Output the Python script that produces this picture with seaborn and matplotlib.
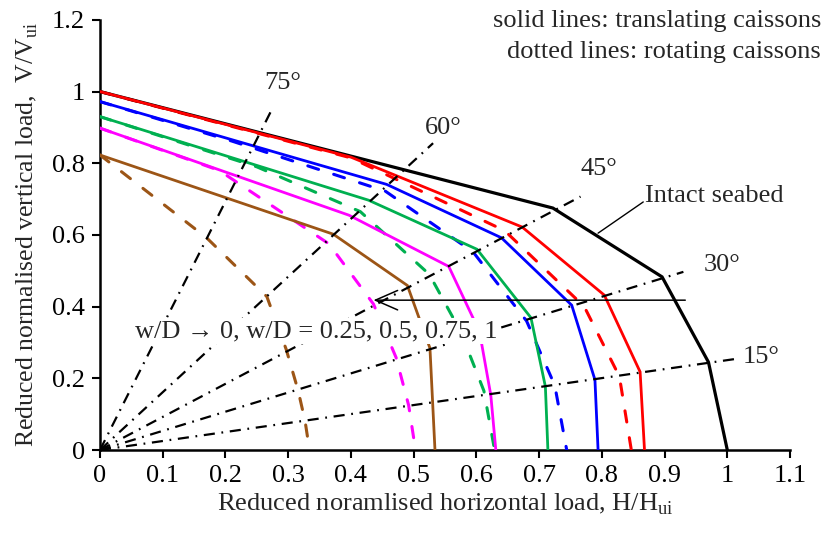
import matplotlib
matplotlib.use("Agg")
import matplotlib.pyplot as plt
import seaborn as sns

# ---------------------------------------------------------------
# Reduced failure envelopes in normalised H-V load space
# (H/Hui on x, V/Vui on y)
# ---------------------------------------------------------------

# intact seabed envelope
intact_h = [0.0, 0.722, 0.896, 0.970, 1.000]
intact_v = [1.0, 0.675, 0.483, 0.245, 0.000]

# translating caissons (solid lines)
tr_h_w0 = [0.0, 0.400, 0.673, 0.804, 0.861, 0.868]
tr_v_w0 = [1.0, 0.817, 0.622, 0.432, 0.218, 0.000]
tr_h_w025 = [0.0, 0.457, 0.640, 0.752, 0.789, 0.794]
tr_v_w025 = [0.972, 0.741, 0.592, 0.404, 0.196, 0.000]
tr_h_w05 = [0.0, 0.428, 0.601, 0.687, 0.710, 0.714]
tr_v_w05 = [0.930, 0.697, 0.560, 0.369, 0.177, 0.000]
tr_h_w075 = [0.0, 0.397, 0.556, 0.605, 0.623, 0.631]
tr_v_w075 = [0.898, 0.655, 0.512, 0.330, 0.153, 0.000]
tr_h_w1 = [0.0, 0.372, 0.490, 0.526, 0.534]
tr_v_w1 = [0.823, 0.602, 0.459, 0.284, 0.000]

# rotating caissons (dashed lines)
rot_h_w0 = [0.0, 0.400, 0.645, 0.772, 0.828, 0.847]
rot_v_w0 = [1.0, 0.815, 0.612, 0.400, 0.205, 0.000]
rot_h_w025 = [0.0, 0.210, 0.455, 0.595, 0.680, 0.725, 0.744]
rot_v_w025 = [0.972, 0.862, 0.722, 0.552, 0.360, 0.180, 0.000]
rot_h_w05 = [0.0, 0.250, 0.415, 0.525, 0.575, 0.612, 0.629]
rot_v_w05 = [0.930, 0.790, 0.665, 0.490, 0.330, 0.165, 0.000]
rot_h_w075 = [0.0, 0.190, 0.365, 0.436, 0.472, 0.492, 0.503]
rot_v_w075 = [0.898, 0.780, 0.575, 0.407, 0.258, 0.125, 0.000]
rot_h_w1 = [0.0, 0.170, 0.266, 0.297, 0.316, 0.327, 0.334]
rot_v_w1 = [0.823, 0.592, 0.428, 0.280, 0.165, 0.080, 0.000]

# load-path rays from the origin (end points) and their labels
ray_labels = ["75°", "60°", "45°", "30°", "15°"]
ray_end_h = [0.276, 0.531, 0.766, 0.930, 1.021]
ray_end_v = [0.957, 0.856, 0.707, 0.497, 0.256]
ray_label_h = [0.291, 0.547, 0.795, 0.992, 1.054]
ray_label_v = [1.023, 0.898, 0.784, 0.516, 0.259]

x_ticks = [0.0, 0.1, 0.2, 0.3, 0.4, 0.5, 0.6, 0.7, 0.8, 0.9, 1.0, 1.1]
x_tick_labels = ["0", "0.1", "0.2", "0.3", "0.4", "0.5", "0.6", "0.7",
                 "0.8", "0.9", "1", "1.1"]
y_ticks = [0.0, 0.2, 0.4, 0.6, 0.8, 1.0, 1.2]
y_tick_labels = ["0", "0.2", "0.4", "0.6", "0.8", "1", "1.2"]

# ---------------------------------------------------------------
sns.set_style("ticks")
plt.rcParams["font.family"] = ["Liberation Serif", "DejaVu Serif"]
plt.rcParams["mathtext.fontset"] = "custom"
plt.rcParams["mathtext.rm"] = "Liberation Serif"
FS = 19

RED, BLUE, GREEN, MAGENTA, BROWN = "#FF0000", "#0000FF", "#00B050", "#FF00FF", "#9C5516"

fig = plt.figure(figsize=(8.27, 5.37), dpi=100)
ax = fig.add_axes([0.1209, 0.162, 0.8344, 0.801])

# rays
for eh, ev in zip(ray_end_h, ray_end_v):
    sns.lineplot(x=[0.0, eh], y=[0.0, ev], ax=ax, color="black", lw=1.6,
                 linestyle=(0, (5, 3, 0.8, 3)), sort=False, estimator=None,
                 zorder=4)
for lab, lh, lv in zip(ray_labels, ray_label_h, ray_label_v):
    ax.text(lh, lv, lab, fontsize=FS, ha="center", va="center", zorder=6)

dash = (0, (3.7, 5.2))
curves = [
    (rot_h_w1, rot_v_w1, BROWN, dash),
    (rot_h_w075, rot_v_w075, MAGENTA, dash),
    (rot_h_w05, rot_v_w05, GREEN, dash),
    (rot_h_w025, rot_v_w025, BLUE, dash),
    (rot_h_w0, rot_v_w0, RED, dash),
    (intact_h, intact_v, "black", "-"),
    (tr_h_w1, tr_v_w1, BROWN, "-"),
    (tr_h_w075, tr_v_w075, MAGENTA, "-"),
    (tr_h_w05, tr_v_w05, GREEN, "-"),
    (tr_h_w025, tr_v_w025, BLUE, "-"),
    (tr_h_w0, tr_v_w0, RED, "-"),
]
for h, v, c, ls in curves:
    lw = 2.3 if c == "black" else (2.2 if ls != "-" else 2.0)
    sns.lineplot(x=h, y=v, ax=ax, color=c, lw=lw, linestyle=ls,
                 sort=False, estimator=None, dash_capstyle="round",
                 solid_joinstyle="miter", zorder=3)

# annotations
ax.annotate("", xy=(0.436, 0.418), xytext=(0.933, 0.418),
            arrowprops=dict(arrowstyle="->,head_length=0.8,head_width=0.35",
                            lw=1.1, color="black", mutation_scale=20,
                            shrinkA=0, shrinkB=0), zorder=5)
label_box = ax.text(0.056, 0.332, "w/D \u2192 0, w/D = 0.25, 0.5, 0.75, 1",
                    fontsize=FS, ha="left", va="center", zorder=20,
                    bbox=dict(boxstyle="square,pad=0.08", facecolor="white",
                              edgecolor="none"))
label_box.get_bbox_patch().set_zorder(20)
ax.plot([0.794, 0.866], [0.605, 0.692], color="black", lw=1.0, zorder=5)
ax.text(0.979, 0.708, "Intact seabed", fontsize=FS, ha="center", va="center",
        zorder=6)

fig.text(0.993, 0.960, "solid lines: translating caissons", fontsize=FS,
         ha="right", va="center")
fig.text(0.993, 0.904, "dotted lines: rotating caissons", fontsize=FS,
         ha="right", va="center")

# axes
ax.set_xlim(0, 1.1)
ax.set_ylim(0, 1.2)
ax.set_xticks(x_ticks)
ax.set_xticklabels(x_tick_labels)
ax.set_yticks(y_ticks)
ax.set_yticklabels(y_tick_labels)
ax.tick_params(direction="out", length=6, width=1.5, labelsize=FS,
               colors="black", pad=5)
for side in ("top", "right"):
    ax.spines[side].set_visible(False)
for side in ("left", "bottom"):
    ax.spines[side].set_linewidth(1.8)
    ax.spines[side].set_color("black")
ax.set_xlabel("Reduced noramlised horizontal load, H/H$_{\\mathregular{ui}}$",
              fontsize=FS, labelpad=3)
ax.set_ylabel("Reduced normalised vertical load,  V/V$_{\\mathregular{ui}}$",
              fontsize=FS - 0.5, labelpad=8)
ax.grid(False)

fig.savefig("out.png", dpi=100)
